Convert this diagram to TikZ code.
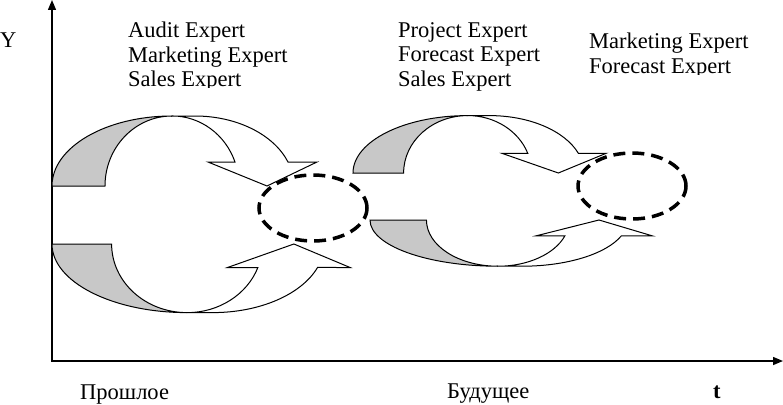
\documentclass[tikz,border=0pt]{standalone}
\usepackage{fontspec}
\setmainfont{Liberation Serif}
\usepackage{tikz}
\usetikzlibrary{positioning,calc,shapes,arrows.meta}
\definecolor{FlowShade}{HTML}{C8C8C8}
\definecolor{FlowLine}{HTML}{000000}

\tikzset{
  pool/.style={draw=FlowLine,ellipse,line width=3.5pt,dash pattern=on 12pt off 7pt,
    minimum width=108pt,minimum height=66pt,inner sep=0pt},
  experts/.style={anchor=north west,align=left,inner sep=0pt},
  axislabel/.style={anchor=base west,inner sep=0pt}
}

\begin{document}
\begin{tikzpicture}[x=1pt,y=-1pt,font=\fontsize{22.5}{24.5}\selectfont]
  \useasboundingbox (0,0) rectangle (783,404);
  % axes
  \coordinate (ytop) at (52,0);
  \coordinate (origin) at (52,361);
  \coordinate (tend) at (783,361);
  \draw[FlowLine,line width=1.4pt,{Triangle[length=10pt,width=8pt]}-{Triangle[length=10pt,width=8pt]}]
    (ytop) -- (origin) -- (tend);
  % curved arrows: back part shaded, front part with head
  \foreach \sx/\sy/\kx/\ky in {52/186/1/1,52/244/1.125/-0.98,353/173/0.955/0.82,370/220/1.065/-0.66} {
    \begin{scope}[shift={(\sx,\sy)},xscale=\kx,yscale=\ky,line width=1pt]
      \filldraw[fill=FlowShade] (0,0) arc[start angle=180,end angle=270,x radius=120,y radius=70]
        arc[start angle=270,end angle=180,x radius=67,y radius=70] -- cycle;
      \filldraw[fill=white] (120,-70) -- (143,-70) arc[start angle=270,end angle=340,x radius=99,y radius=70]
        -- (265,-24) -- (215,0) -- (156,-24) -- (183,-24)
        arc[start angle=340,end angle=270,x radius=67,y radius=70] -- cycle;
    \end{scope}
  }
  \node[pool] (ovalnow) at (313,208) {};
  \node[pool] (ovalnext) at (632,186) {};
  % expert groups
  \begin{scope}
    \clip (120,0) rectangle (330,87.5);
    \node[experts] (pastexp) at (128,22) {Audit Expert\\Marketing Expert\\Sales Expert};
  \end{scope}
  \node[experts] (nowexp) at (398,22) {Project Expert\\Forecast Expert\\Sales Expert};
  \begin{scope}
    \clip (580,0) rectangle (783,74.5);
    \node[experts] (nextexp) at (589,33) {Marketing Expert\\Forecast Expert};
  \end{scope}
  % axis labels
  \node[axislabel] (ylab) at (0,48) {Y};
  \node[axislabel] (pastlab) at (80,399) {Прошлое};
  \node[axislabel] (futlab) at (447,398) {Будущее};
  \node[axislabel] (tlab) at (713,398) {\textbf{t}};
\end{tikzpicture}
\end{document}
